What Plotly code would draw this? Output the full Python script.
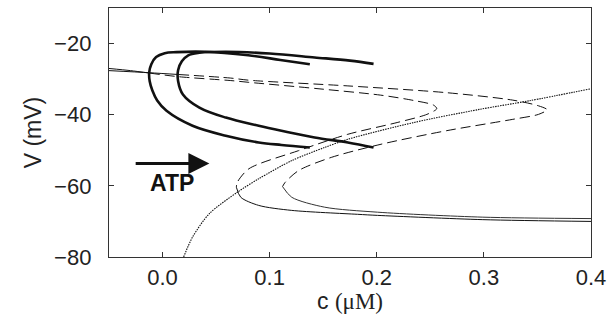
import plotly.graph_objects as go

# Periodic-orbit extrema (thick C-shaped branches), ATP level 1 and 2
orbit1_c = [0.1375, 0.11, 0.08, 0.04, 0.013, 0.002, -0.006, -0.0105, -0.0125, -0.012, -0.0095, -0.005, 0.0037, 0.028, 0.059, 0.0898, 0.111, 0.1375]
orbit1_v = [-25.8, -24.6, -23.3, -22.3, -22.4, -22.7, -23.8, -25.8, -28.2, -30.6, -33.2, -36.0, -38.9, -43.1, -45.9, -47.8, -48.5, -49.2]
orbit2_c = [0.197, 0.175, 0.142, 0.10, 0.059, 0.0344, 0.024, 0.018, 0.0145, 0.0145, 0.019, 0.0344, 0.059, 0.0898, 0.111, 0.142, 0.173, 0.197]
orbit2_v = [-25.7, -24.8, -23.9, -22.8, -22.3, -22.6, -23.3, -25.0, -27.5, -30.5, -34.3, -38.0, -40.8, -43.1, -44.5, -46.4, -47.8, -49.2]

# Steady-state curve 1: stable upper piece, unstable piece, stable lower piece
ss1_up_c = [-0.05, -0.03, -0.012]
ss1_up_v = [-27.0, -27.6, -28.3]
ss1_mid_c = [-0.012, 0.0144, 0.0637, 0.0806, 0.142, 0.2037, 0.2345, 0.253, 0.256, 0.2468, 0.219, 0.173, 0.127, 0.0806, 0.0698, 0.0689]
ss1_mid_v = [-28.3, -29.3, -30.4, -30.9, -32.6, -34.5, -36.0, -37.3, -38.3, -39.9, -42.2, -45.5, -50.1, -55.2, -59.0, -60.4]
ss1_low_c = [0.0689, 0.073, 0.0898, 0.1206, 0.182, 0.2006, 0.299, 0.4]
ss1_low_v = [-60.4, -63.2, -65.5, -66.9, -68.0, -68.3, -69.5, -70.0]

# Steady-state curve 2
ss2_up_c = [-0.05, -0.012, 0.015]
ss2_up_v = [-27.6, -28.2, -28.7]
ss2_mid_c = [0.015, 0.0637, 0.0806, 0.173, 0.265, 0.327, 0.351, 0.359, 0.351, 0.327, 0.265, 0.204, 0.1575, 0.127, 0.1145, 0.112]
ss2_mid_v = [-28.7, -29.7, -30.3, -31.9, -33.8, -35.9, -37.5, -38.6, -39.9, -41.3, -44.5, -48.3, -52.0, -55.7, -59.0, -60.2]
ss2_low_c = [0.112, 0.1206, 0.1514, 0.2006, 0.299, 0.4]
ss2_low_v = [-60.2, -63.2, -66.0, -67.4, -68.8, -69.2]

# Nullcline (dotted)
null_c = [0.0197, 0.028, 0.0437, 0.0698, 0.0898, 0.1206, 0.1514, 0.173, 0.2345, 0.296, 0.342, 0.4]
null_v = [-80.0, -74.4, -67.8, -61.8, -58.0, -52.9, -49.2, -46.9, -42.2, -38.5, -36.1, -32.7]

x_ticks = [0.0, 0.1, 0.2, 0.3, 0.4]
x_tick_text = ["0.0", "0.1", "0.2", "0.3", "0.4"]
y_ticks = [-80, -60, -40, -20]

# ATP arrow (tail, head) and label position
arrow_c = [-0.0265, 0.0437]
arrow_v = [-53.7, -53.7]
atp_pos = (0.009, -59.2)

INK = "#111111"
SANS = "Liberation Sans, Arial, Helvetica, sans-serif"

fig = go.Figure()


def add(c, v, width, dash="solid", color=INK, smoothing=0.8):
    fig.add_trace(go.Scatter(
        x=c, y=v, mode="lines",
        line=dict(color=color, width=width, dash=dash, shape="spline", smoothing=smoothing),
        hoverinfo="skip", showlegend=False,
    ))


DASH = "10px,5px"
add(ss1_up_c, ss1_up_v, 1.0)
add(ss1_mid_c, ss1_mid_v, 1.0, DASH)
add(ss1_low_c, ss1_low_v, 1.0)
add(ss2_up_c, ss2_up_v, 1.0)
add(ss2_mid_c, ss2_mid_v, 1.0, DASH)
add(ss2_low_c, ss2_low_v, 1.0, color="#333333")
add(null_c, null_v, 1.1, "1.5px,1px")
add(orbit1_c, orbit1_v, 2.6, smoothing=1.0)
add(orbit2_c, orbit2_v, 2.6, smoothing=1.0)

fig.add_annotation(
    x=arrow_c[1], y=arrow_v[1], ax=arrow_c[0], ay=arrow_v[0],
    xref="x", yref="y", axref="x", ayref="y",
    text="", showarrow=True, arrowhead=2, arrowsize=1.4, arrowwidth=3, arrowcolor=INK,
)
fig.add_annotation(
    x=atp_pos[0], y=atp_pos[1], xref="x", yref="y", text="<b>ATP</b>",
    showarrow=False, font=dict(family=SANS, size=23, color=INK),
)

# x-axis title placed below the tick labels
fig.add_annotation(
    x=0.5, y=-0.176, xref="paper", yref="paper", xanchor="center", yanchor="middle",
    text="c <span style='font-family:Liberation Serif, Times New Roman, serif'>(μM)</span>",
    showarrow=False, font=dict(family=SANS, size=23, color="#222222"),
)

axis_common = dict(
    showline=True, linecolor="#333333", linewidth=1.3, mirror="ticks",
    ticks="inside", ticklen=5, tickwidth=1.1, tickcolor="#333333",
    showgrid=False, zeroline=False,
    tickfont=dict(family=SANS, size=22, color="#222222"),
)

fig.update_xaxes(
    range=[-0.05, 0.4], tickvals=x_ticks, ticktext=x_tick_text,
    ticklabelstandoff=0,
    **axis_common,
)
fig.update_yaxes(
    range=[-80, -10], tickvals=y_ticks, tickformat="d",
    ticklabelstandoff=12,
    title=dict(text="V (mV)", font=dict(family=SANS, size=23, color="#222222"), standoff=6),
    **axis_common,
)

fig.update_layout(
    width=613, height=326,
    margin=dict(l=109, r=17, t=7, b=69),
    paper_bgcolor="white", plot_bgcolor="white",
)

fig.write_html("out.html")
